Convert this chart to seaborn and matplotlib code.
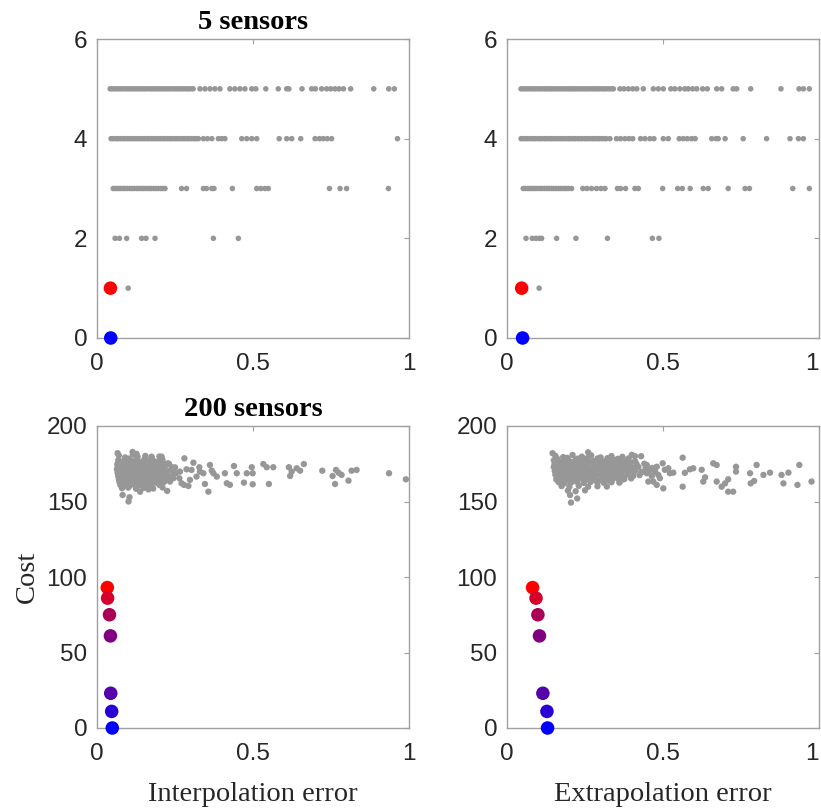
import numpy as np
import pandas as pd
import matplotlib
matplotlib.use("Agg")
import matplotlib.pyplot as plt
import seaborn as sns

# ---------------- data: 5 sensors, interpolation ----------------
ti_c5 = [0.042,0.049,0.057,0.064,0.072,0.079,0.087,0.095,0.102,0.11,0.117,0.125,0.133,0.14,0.148,0.155,
         0.163,0.171,0.178,0.186,0.193,0.201,0.209,0.216,0.224,0.231,0.239,0.247,0.254,0.262,0.269,0.277,
         0.285,0.292,0.3,0.308,0.33,0.346,0.362,0.378,0.394,0.426,0.442,0.458,0.474,0.496,0.509,0.541,
         0.581,0.608,0.615,0.657,0.688,0.70,0.72,0.736,0.749,0.763,0.776,0.79,0.813,0.887,0.935,0.953]
ti_c4 = [0.045,0.052,0.06,0.067,0.075,0.083,0.09,0.098,0.105,0.113,0.121,0.128,0.136,0.143,0.151,0.159,
         0.166,0.174,0.181,0.189,0.197,0.204,0.212,0.219,0.227,0.235,0.242,0.25,0.257,0.265,0.273,0.28,
         0.288,0.295,0.303,0.311,0.318,0.325,0.341,0.354,0.368,0.389,0.40,0.41,0.464,0.48,0.496,0.512,
         0.584,0.608,0.624,0.653,0.699,0.713,0.725,0.738,0.752,0.963]
ti_c3 = [0.052,0.059,0.067,0.074,0.082,0.089,0.097,0.105,0.112,0.12,0.128,0.135,0.143,0.15,0.158,0.166,
         0.173,0.181,0.188,0.196,0.204,0.211,0.218,0.271,0.287,0.341,0.351,0.368,0.375,0.434,0.512,0.525,
         0.538,0.549,0.745,0.779,0.80,0.934]
ti_c2 = [0.058,0.072,0.095,0.143,0.157,0.186,0.373,0.453]
ti_c1 = [0.10]

# ---------------- data: 5 sensors, extrapolation ----------------
te_c5 = [0.045,0.052,0.06,0.067,0.075,0.083,0.09,0.098,0.105,0.113,0.121,0.128,0.136,0.143,0.151,0.159,
         0.166,0.174,0.181,0.189,0.197,0.204,0.212,0.219,0.227,0.235,0.242,0.25,0.257,0.265,0.273,0.28,
         0.288,0.295,0.303,0.311,0.318,0.326,0.334,0.341,0.362,0.375,0.389,0.403,0.416,0.437,0.469,0.485,
         0.501,0.525,0.538,0.554,0.57,0.581,0.595,0.608,0.627,0.642,0.672,0.688,0.725,0.736,0.781,0.878,
         0.936,0.95,0.969]
te_c4 = [0.045,0.052,0.06,0.067,0.075,0.083,0.09,0.098,0.105,0.113,0.121,0.128,0.136,0.143,0.151,0.159,
         0.166,0.174,0.181,0.189,0.197,0.204,0.212,0.219,0.227,0.235,0.242,0.25,0.257,0.265,0.273,0.28,
         0.288,0.295,0.303,0.311,0.318,0.33,0.351,0.364,0.378,0.391,0.403,0.428,0.442,0.458,0.471,0.501,
         0.517,0.552,0.565,0.578,0.592,0.603,0.656,0.67,0.677,0.699,0.757,0.832,0.907,0.934,0.95]
te_c3 = [0.052,0.059,0.067,0.074,0.082,0.089,0.097,0.105,0.112,0.12,0.128,0.135,0.143,0.15,0.158,0.166,
         0.173,0.181,0.188,0.196,0.207,0.243,0.256,0.271,0.287,0.301,0.314,0.354,0.364,0.38,0.41,0.421,
         0.499,0.547,0.562,0.587,0.629,0.645,0.709,0.763,0.777,0.916,0.969]
te_c2 = [0.061,0.081,0.093,0.104,0.111,0.159,0.221,0.322,0.466,0.487]
te_c1 = [0.103]

# best designs (5 sensors)
top_best_cost = [1, 0]
ti_best_err = [0.043, 0.044]
te_best_err = [0.047, 0.050]
top_best_colors = ["#ff0000", "#0000ff"]

# ---------------- data: 200 sensors, interpolation cloud ----------------
bi_x = [0.07,0.09,0.115,0.13,0.155,0.175,0.2,
        0.068,0.082,0.098,0.11,0.125,0.14,0.152,0.166,0.18,0.195,0.21,
        0.065,0.075,0.088,0.1,0.112,0.122,0.134,0.146,0.158,0.17,0.183,0.197,0.215,0.228,
        0.066,0.078,0.09,0.103,0.115,0.127,0.139,0.151,0.163,0.176,0.189,0.202,0.218,0.24,
        0.064,0.076,0.087,0.099,0.111,0.123,0.135,0.147,0.16,0.172,0.185,0.198,0.212,0.226,
        0.066,0.079,0.091,0.104,0.116,0.128,0.14,0.153,0.166,0.179,0.193,0.207,0.222,0.245,
        0.068,0.08,0.093,0.105,0.118,0.13,0.143,0.156,0.169,0.182,0.196,0.21,0.232,
        0.07,0.083,0.096,0.109,0.121,0.134,0.147,0.16,0.174,0.188,0.203,0.225,
        0.072,0.086,0.1,0.114,0.128,0.142,0.157,0.172,0.19,0.215,
        0.075,0.09,0.105,0.12,0.138,0.155,0.175,0.2,
        0.08,0.1,0.125,0.15,0.18,0.21,
        0.073,0.087,0.101,0.117,0.133,0.148,0.163,0.178,0.193,0.208,
        0.074,0.089,0.106,0.121,0.137,0.152,0.168,0.184,0.2,0.216,
        0.076,0.092,0.108,0.124,0.141,0.158,0.176,0.194,
        0.066,0.114,0.127,0.175,0.207,0.082,0.101,0.104,0.138,0.225,0.165,
        0.234,0.245,0.253,0.239,0.271,0.298,0.303,
        0.231,0.25,0.28,0.287,0.266,0.264,0.279,0.293,0.309,0.319,0.328,0.33,0.341,0.346,0.357,0.362,
        0.368,0.373,0.384,0.41,0.416,0.426,0.439,0.448,0.471,0.48,0.496,0.499,0.499,0.533,0.544,0.551,
        0.565,0.615,0.619,0.624,0.64,0.651,0.663,0.722,0.755,0.763,0.766,0.774,0.784,0.806,0.816,0.832,
        0.936,0.99]
bi_y = [180.5,179.2,181.0,179.6,180.2,179.0,179.8,
        177.3,176.5,177.8,176.9,177.5,176.2,177.9,176.8,177.2,176.4,177.6,
        174.6,175.4,174.2,175.8,174.9,175.2,174.4,175.6,174.7,175.1,174.3,175.5,174.8,175.3,
        172.8,173.5,172.3,173.1,173.9,172.6,173.4,172.2,173.7,172.9,173.3,172.5,173.6,172.7,
        171.2,170.6,171.5,170.9,171.3,170.4,171.7,170.8,171.1,170.5,171.4,170.7,171.0,170.3,
        168.9,169.4,168.5,169.2,168.7,169.6,168.3,169.1,168.8,169.5,168.6,169.3,168.4,169.0,
        166.8,167.3,166.5,167.6,166.9,167.2,166.4,167.5,166.7,167.1,166.3,167.4,166.6,
        164.7,165.3,164.9,165.5,164.4,165.1,164.8,165.4,164.6,165.2,164.5,165.0,
        162.8,163.4,162.5,163.1,162.9,163.5,162.6,163.2,162.7,163.0,
        160.9,161.3,160.5,161.1,160.7,161.4,160.6,161.0,
        158.8,159.2,158.5,159.0,158.6,159.3,
        176.0,174.1,178.4,173.6,176.3,171.9,174.0,176.6,172.1,174.5,
        168.0,165.9,170.2,166.2,168.1,164.0,170.0,166.1,167.9,165.8,
        163.9,162.0,161.7,164.1,162.2,160.1,163.8,162.2,
        182.0,182.8,181.5,179.7,179.7,154.3,150.0,152.8,156.5,157.0,158.0,
        163.2,165.4,168.7,170.9,162.1,164.3,170.9,
        174.8,172.6,178.6,171.3,169.8,165.4,161.0,160.3,175.7,166.5,172.7,169.8,168.7,161.6,156.5,174.2,
        170.4,168.7,166.5,168.7,162.1,161.0,173.5,168.7,162.5,168.7,172.7,168.7,161.4,174.8,172.7,161.6,
        172.7,172.7,166.9,169.8,172.0,170.4,174.8,170.4,166.9,161.6,170.9,169.1,167.6,163.8,170.4,170.9,
        168.7,164.7]

# ---------------- data: 200 sensors, extrapolation cloud ----------------
be_x = [0.155,0.18,0.21,0.24,0.27,0.3,0.335,0.37,0.4,
        0.15,0.165,0.185,0.2,0.22,0.235,0.255,0.275,0.295,0.315,0.34,0.36,0.385,0.41,
        0.152,0.168,0.183,0.198,0.214,0.23,0.246,0.262,0.278,0.294,0.31,0.326,0.343,0.36,0.378,0.396,0.415,0.44,
        0.15,0.166,0.181,0.197,0.212,0.228,0.244,0.259,0.275,0.291,0.306,0.322,0.338,0.354,0.37,0.387,0.404,0.421,0.445,0.465,
        0.153,0.169,0.184,0.2,0.215,0.231,0.247,0.262,0.278,0.294,0.31,0.326,0.342,0.358,0.375,0.392,0.41,0.43,0.455,0.475,
        0.155,0.171,0.187,0.203,0.219,0.235,0.251,0.267,0.283,0.3,0.316,0.333,0.35,0.368,0.386,0.405,0.425,
        0.158,0.175,0.192,0.21,0.227,0.245,0.263,0.281,0.3,0.318,0.337,0.356,0.376,0.398,
        0.165,0.185,0.205,0.225,0.246,0.268,0.29,0.31,0.335,0.36,
        0.175,0.2,0.23,0.26,0.29,0.32,
        0.195,0.22,0.25,
        0.16,0.176,0.193,0.209,0.226,0.242,0.258,0.274,0.29,0.306,0.322,0.338,0.355,0.372,0.39,
        0.162,0.179,0.196,0.214,0.232,0.25,0.268,0.286,0.305,0.324,0.344,0.364,
        0.146,0.26,0.41,0.43,0.205,0.225,0.202,
        0.437,0.448,0.464,0.469,0.48,0.485,0.49,0.499,0.501,0.506,0.517,0.522,0.533,0.48,0.453,0.448,
        0.563,0.563,0.57,0.586,0.597,0.624,0.629,0.635,0.661,0.672,0.672,0.688,0.699,0.709,0.709,0.725,
        0.734,0.734,0.779,0.781,0.792,0.8,0.822,0.843,0.88,0.886,0.902,0.931,0.937,0.976]
be_y = [180.3,179.4,180.8,179.7,180.5,179.2,180.1,179.6,180.9,
        177.3,176.6,177.8,176.9,177.5,176.3,177.9,176.8,177.2,176.5,177.6,176.9,177.4,176.7,
        174.6,175.4,174.2,175.8,174.9,175.2,174.4,175.6,174.7,175.1,174.3,175.5,174.8,175.3,174.5,175.7,174.9,175.0,
        172.8,172.1,173.0,172.4,172.9,172.2,173.1,172.6,172.3,172.8,172.0,173.2,172.5,172.7,172.1,173.0,172.4,172.9,172.6,172.2,
        170.2,169.6,170.5,169.9,170.3,169.4,170.7,169.8,170.1,169.5,170.4,169.7,170.0,169.3,170.6,169.8,170.2,169.5,170.0,169.7,
        167.8,167.2,167.5,168.0,167.0,167.6,167.3,167.9,167.1,167.7,167.4,166.9,167.6,167.2,167.8,167.0,167.5,
        164.7,165.3,164.9,165.5,164.4,165.1,164.8,165.4,164.6,165.2,164.5,165.0,164.8,165.3,
        162.8,162.2,162.5,163.0,162.3,162.9,162.6,162.4,162.8,162.5,
        160.2,159.7,160.4,159.8,160.1,159.9,
        157.2,156.8,157.4,
        178.6,176.1,178.9,175.9,178.4,176.2,178.8,176.0,178.5,176.4,178.7,176.1,178.3,175.8,178.6,
        166.1,163.8,166.3,163.6,166.0,163.9,166.2,163.7,166.1,163.9,166.0,163.6,
        182.0,182.6,180.0,180.0,149.3,152.0,154.3,
        169.8,168.7,166.8,163.2,173.0,167.6,165.4,175.3,158.7,171.0,172.0,168.7,169.1,161.0,163.2,174.2,
        179.0,159.8,169.0,171.3,172.0,171.0,163.2,166.0,175.3,174.2,163.2,159.8,162.0,164.7,156.5,156.5,
        173.0,169.8,168.7,162.0,163.6,174.2,167.6,169.1,167.6,162.0,169.1,161.0,174.2,163.2]

# best designs (200 sensors)
bot_best_cost = [93, 86, 75, 61, 23, 11, 0]
bi_best_err = [0.033, 0.034, 0.040, 0.043, 0.044, 0.047, 0.049]
be_best_err = [0.082, 0.093, 0.099, 0.104, 0.115, 0.128, 0.130]
bot_best_colors = ["#ff0000", "#d5002b", "#aa0055", "#800080", "#5500aa", "#2b00d5", "#0000ff"]

x_ticks = [0, 0.5, 1]
x_ticklabels = ["0", "0.5", "1"]
top_yticks = [0, 2, 4, 6]
bot_yticks = [0, 50, 100, 150, 200]

# ---------------- plotting ----------------
sns.set_style("white")
plt.rcParams["font.family"] = ["Liberation Sans", "DejaVu Sans"]

GRAY = "#979797"
SPINE = "#a0a0a0"
TXT = "#262626"

fig = plt.figure(figsize=(8.21, 8.09), dpi=100)
W, H = 821, 809
def pos(l, t, r, b):
    return [l / W, 1 - b / H, (r - l) / W, (b - t) / H]

ax_tl = fig.add_axes(pos(97, 39, 409, 338))
ax_tr = fig.add_axes(pos(507, 39, 819, 338))
ax_bl = fig.add_axes(pos(97, 426, 409, 728))
ax_br = fig.add_axes(pos(507, 426, 819, 728))

def top_df(c5, c4, c3, c2, c1):
    errs = c5 + c4 + c3 + c2 + c1
    costs = [5]*len(c5) + [4]*len(c4) + [3]*len(c3) + [2]*len(c2) + [1]*len(c1)
    return pd.DataFrame({"err": errs, "cost": costs})

def draw(ax, cloud, best_err, best_cost, best_colors, s_gray):
    sns.scatterplot(data=cloud, x="err", y="cost", ax=ax, color=GRAY, s=s_gray,
                    linewidth=0, edgecolor="none", legend=False)
    bdf = pd.DataFrame({"err": best_err, "cost": best_cost,
                        "k": [str(i) for i in range(len(best_err))]})
    sns.scatterplot(data=bdf, x="err", y="cost", hue="k", palette=best_colors, ax=ax,
                    s=95, linewidth=0, edgecolor="none", legend=False, clip_on=False, zorder=5)
    ax.set_xlim(0, 1)
    ax.set_xticks(x_ticks)
    ax.set_xticklabels(x_ticklabels)
    ax.set_xlabel("")
    ax.set_ylabel("")
    for sp in ax.spines.values():
        sp.set_color(SPINE)
        sp.set_linewidth(1.0)
    ax.tick_params(direction="in", top=True, right=True, length=3.5, width=0.8,
                   color=SPINE, labelcolor=TXT, labelsize=17.5)
    ax.tick_params(axis="x", pad=11)
    ax.tick_params(axis="y", pad=7)

draw(ax_tl, top_df(ti_c5, ti_c4, ti_c3, ti_c2, ti_c1), ti_best_err, top_best_cost, top_best_colors, 16)
draw(ax_tr, top_df(te_c5, te_c4, te_c3, te_c2, te_c1), te_best_err, top_best_cost, top_best_colors, 16)
draw(ax_bl, pd.DataFrame({"err": bi_x, "cost": bi_y}), bi_best_err, bot_best_cost, bot_best_colors, 21)
draw(ax_br, pd.DataFrame({"err": be_x, "cost": be_y}), be_best_err, bot_best_cost, bot_best_colors, 21)

for ax in (ax_tl, ax_tr):
    ax.set_ylim(0, 6)
    ax.set_yticks(top_yticks)
for ax in (ax_bl, ax_br):
    ax.set_ylim(0, 200)
    ax.set_yticks(bot_yticks)

# keep the last "1" label of the right column inside the figure edge
for ax in (ax_tr, ax_br):
    ax.get_xticklabels()[-1].set_horizontalalignment("right")

serif = ["Liberation Serif", "DejaVu Serif"]
ax_tl.set_title("5 sensors", family=serif, fontweight="bold", fontsize=20.5, color="black", pad=7)
ax_bl.set_title("200 sensors", family=serif, fontweight="bold", fontsize=20.5, color="black", pad=7)
ax_bl.set_xlabel("Interpolation error", family=serif, fontsize=20.5, color=TXT, labelpad=12)
ax_br.set_xlabel("Extrapolation error", family=serif, fontsize=20.5, color=TXT, labelpad=12)
ax_bl.set_ylabel("Cost", family=serif, fontsize=20.5, color=TXT, labelpad=5)

fig.savefig("out.png", dpi=100)
